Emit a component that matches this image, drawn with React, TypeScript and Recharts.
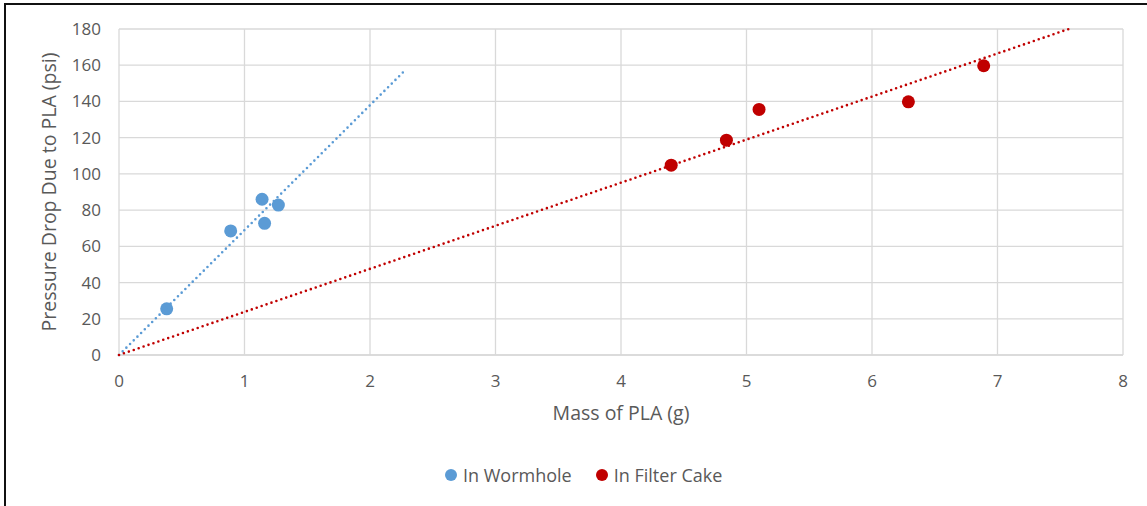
import { CartesianGrid, Label, Scatter, ScatterChart, XAxis, YAxis } from "recharts";

const wormholeMass = [0.38, 0.89, 1.14, 1.16, 1.27];
const wormholePressure = [25.5, 68.5, 86, 72.7, 82.8];
const filterCakeMass = [4.4, 4.84, 5.1, 6.29, 6.89];
const filterCakePressure = [104.8, 118.6, 135.6, 139.8, 159.7];
const xTicks = [0, 1, 2, 3, 4, 5, 6, 7, 8];
const yTicks = [0, 20, 40, 60, 80, 100, 120, 140, 160, 180];

const BLUE = "#5B9BD5";
const RED = "#C00000";
const TEXT = "#595959";
const GRID = "#D9D9D9";
const FONT = "'Open Sans', 'Liberation Sans', sans-serif";

const toPoints = (xs: number[], ys: number[]) => xs.map((x, i) => ({ x, y: ys[i] }));

// linear trendline forced through the origin, forecast 1 unit forward, clipped at the top of the axis
function trendThroughOrigin(xs: number[], ys: number[], yMax: number) {
  const sxy = xs.reduce((s, x, i) => s + x * ys[i], 0);
  const sxx = xs.reduce((s, x) => s + x * x, 0);
  const slope = sxy / sxx;
  const xEnd = Math.min(Math.max(...xs) + 1, yMax / slope);
  return [
    { x: 0, y: 0 },
    { x: xEnd, y: slope * xEnd }
  ];
}

const wormhole = toPoints(wormholeMass, wormholePressure);
const filterCake = toPoints(filterCakeMass, filterCakePressure);
const wormholeTrend = trendThroughOrigin(wormholeMass, wormholePressure, 180);
const filterCakeTrend = trendThroughOrigin(filterCakeMass, filterCakePressure, 180);

const dot = (color: string) => (props: any) => (
  <circle cx={props.cx} cy={props.cy} r={6.5} fill={color} />
);

const trendStyle = (color: string) => ({
  stroke: color,
  strokeWidth: 2.6,
  strokeDasharray: "0 5.2",
  strokeLinecap: "round" as const
});

function LegendItem({ color, text, gap }: { color: string; text: string; gap: number }) {
  return (
    <span style={{ display: "inline-flex", alignItems: "center", marginRight: gap }}>
      <span
        style={{
          width: 12,
          height: 12,
          borderRadius: "50%",
          background: color,
          display: "inline-block",
          marginRight: 6
        }}
      />
      {text}
    </span>
  );
}

export default function App() {
  return (
    <div
      style={{
        position: "absolute",
        left: 0,
        top: 0,
        width: 1147,
        height: 506,
        background: "#fff",
        fontFamily: FONT,
        overflow: "hidden"
      }}
    >
      <div style={{ position: "absolute", left: 4, top: 3, width: 1143, height: 2, background: "#111" }} />
      <div style={{ position: "absolute", left: 4, top: 3, width: 2, height: 503, background: "#111" }} />
      <ScatterChart
        width={1147}
        height={506}
        margin={{ top: 29, right: 24, bottom: 81, left: 0 }}
        style={{ position: "absolute", left: 0, top: 0 }}
      >
        <CartesianGrid stroke={GRID} strokeWidth={1.3} />
        <XAxis
          type="number"
          dataKey="x"
          domain={[0, 8]}
          ticks={xTicks}
          interval={0}
          height={70}
          tickLine={false}
          axisLine={{ stroke: GRID, strokeWidth: 1.5 }}
          tickSize={0}
          tickMargin={20}
          tick={{ fill: TEXT, fontSize: 17, fontFamily: FONT }}
        >
          <Label
            value="Mass of PLA (g)"
            position="insideBottom"
            offset={5}
            style={{ fill: TEXT, fontSize: 19.5, fontFamily: FONT }}
          />
        </XAxis>
        <YAxis
          type="number"
          dataKey="y"
          domain={[0, 180]}
          ticks={yTicks}
          interval={0}
          width={119}
          tickLine={false}
          axisLine={false}
          tickSize={0}
          tickMargin={18}
          tick={{ fill: TEXT, fontSize: 17, fontFamily: FONT }}
        >
          <Label
            content={({ viewBox }: any) => (
              <text
                x={48}
                y={viewBox.y + viewBox.height / 2}
                transform={`rotate(-90, 48, ${viewBox.y + viewBox.height / 2})`}
                textAnchor="middle"
                dominantBaseline="central"
                fill={TEXT}
                fontSize={19.5}
                fontFamily={FONT}
              >
                Pressure Drop Due to PLA (psi)
              </text>
            )}
          />
        </YAxis>
        <Scatter name="In Wormhole" data={wormhole} shape={dot(BLUE)} isAnimationActive={false} />
        <Scatter name="In Filter Cake" data={filterCake} shape={dot(RED)} isAnimationActive={false} />
        <Scatter
          data={wormholeTrend}
          line={trendStyle(BLUE)}
          shape={() => <g />}
          legendType="none"
          isAnimationActive={false}
        />
        <Scatter
          data={filterCakeTrend}
          line={trendStyle(RED)}
          shape={() => <g />}
          legendType="none"
          isAnimationActive={false}
        />
      </ScatterChart>
      <div
        style={{
          position: "absolute",
          left: 445,
          top: 463,
          color: TEXT,
          fontSize: 18,
          display: "flex",
          alignItems: "center",
          whiteSpace: "nowrap"
        }}
      >
        <LegendItem color={BLUE} text="In Wormhole" gap={24} />
        <LegendItem color={RED} text="In Filter Cake" gap={0} />
      </div>
    </div>
  );
}
